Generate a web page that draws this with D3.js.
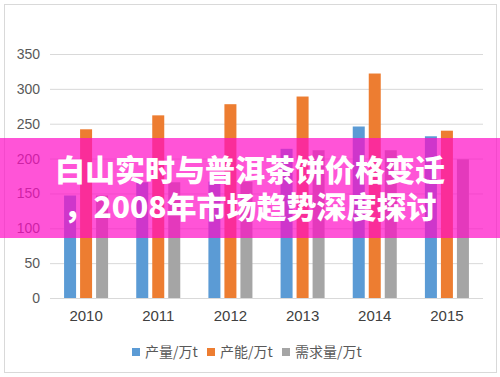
<!DOCTYPE html>
<html>
<head>
<meta charset="utf-8">
<script src="https://cdn.jsdelivr.net/npm/d3@7"></script>
<style>
  body { margin: 0; background: #fff; }
  svg { display: block; }
</style>
</head>
<body>
<svg id="chart" width="500" height="377"></svg>
<script>
var years = ["2010", "2011", "2012", "2013", "2014", "2015"];
var seriesNames = ["产量/万t", "产能/万t", "需求量/万t"];
var seriesColors = ["#5b9bd5", "#ed7d31", "#a5a5a5"];
var output = [147, 166, 167, 214, 246, 232];
var capacity = [242, 262, 278, 289, 322, 240];
var demand = [147, 166, 167, 212, 212, 199];
var yTicks = [0, 50, 100, 150, 200, 250, 300, 350];
var titleLines = ["白山实时与普洱茶饼价格变迁", "，2008年市场趋势深度探讨"];

var values = [output, capacity, demand];

var svg = d3.select("#chart");
var margin = {top: 54, left: 50, right: 17, bottom: 79};
var width = 500 - margin.left - margin.right;
var height = 377 - margin.top - margin.bottom;

// outer chart border
svg.append("rect")
    .attr("x", 4.5).attr("y", 4.5)
    .attr("width", 492).attr("height", 368)
    .attr("fill", "#fff")
    .attr("stroke", "#d9d9d9");

var g = svg.append("g")
    .attr("transform", "translate(" + margin.left + "," + margin.top + ")");

var x = d3.scaleBand()
    .domain(years)
    .range([0, width])
    .paddingInner(0.39)
    .paddingOuter(0.195);

var xs = d3.scaleBand()
    .domain(d3.range(seriesNames.length))
    .range([0, x.bandwidth()])
    .paddingInner(0.25);

var y = d3.scaleLinear()
    .domain([0, 350])
    .range([height, 0]);

// gridlines
var yAxis = d3.axisLeft(y)
    .tickValues(yTicks)
    .tickSize(-width)
    .tickPadding(10);

var ga = g.append("g").call(yAxis);
ga.select(".domain").remove();
ga.selectAll("line").attr("stroke", "#d9d9d9");
ga.selectAll("text")
    .attr("fill", "#595959")
    .style("font-family", "'Liberation Sans', Arial, sans-serif")
    .style("font-size", "14px");

// bars
var groups = g.selectAll(".year")
    .data(years)
    .enter()
    .append("g")
    .attr("transform", function(d) { return "translate(" + x(d) + ",0)"; });

groups.selectAll("rect")
    .data(function(d, i) {
        return values.map(function(v, k) { return {k: k, value: v[i]}; });
    })
    .enter()
    .append("rect")
    .attr("x", function(d) { return xs(d.k); })
    .attr("y", function(d) { return y(d.value); })
    .attr("width", xs.bandwidth())
    .attr("height", function(d) { return height - y(d.value); })
    .attr("fill", function(d) { return seriesColors[d.k]; });

// x labels
var xAxis = d3.axisBottom(x).tickSize(0).tickPadding(12);
var gx = g.append("g")
    .attr("transform", "translate(0," + height + ")")
    .call(xAxis);
gx.select(".domain").remove();
gx.selectAll("text")
    .attr("fill", "#404040")
    .style("font-family", "'Liberation Sans', Arial, sans-serif")
    .style("font-size", "15px");

// legend
var legendX = [132, 207, 282];
var legend = svg.append("g").attr("transform", "translate(0,352)");
var li = legend.selectAll("g")
    .data(seriesNames)
    .enter()
    .append("g")
    .attr("transform", function(d, i) { return "translate(" + legendX[i] + ",0)"; });
li.append("rect")
    .attr("x", 0).attr("y", -4)
    .attr("width", 8).attr("height", 8)
    .attr("fill", function(d, i) { return seriesColors[i]; });
li.append("text")
    .attr("x", 13)
    .attr("y", 5)
    .attr("fill", "#595959")
    .style("font-family", "'Noto Sans CJK SC', sans-serif")
    .style("font-size", "14px")
    .text(function(d) { return d; });

// pink title band
svg.append("rect")
    .attr("x", 0).attr("y", 138)
    .attr("width", 500).attr("height", 100)
    .attr("fill", "rgba(255, 12, 198, 0.7)");

svg.selectAll(".title")
    .data(titleLines)
    .enter()
    .append("text")
    .attr("class", "title")
    .attr("x", 250)
    .attr("y", function(d, i) { return 181 + i * 37; })
    .attr("text-anchor", "middle")
    .attr("fill", "#fff")
    .style("font-family", "'Noto Sans CJK SC', sans-serif")
    .style("font-weight", "900")
    .style("font-size", "30px")
    .text(function(d) { return d; });
</script>
</body>
</html>
